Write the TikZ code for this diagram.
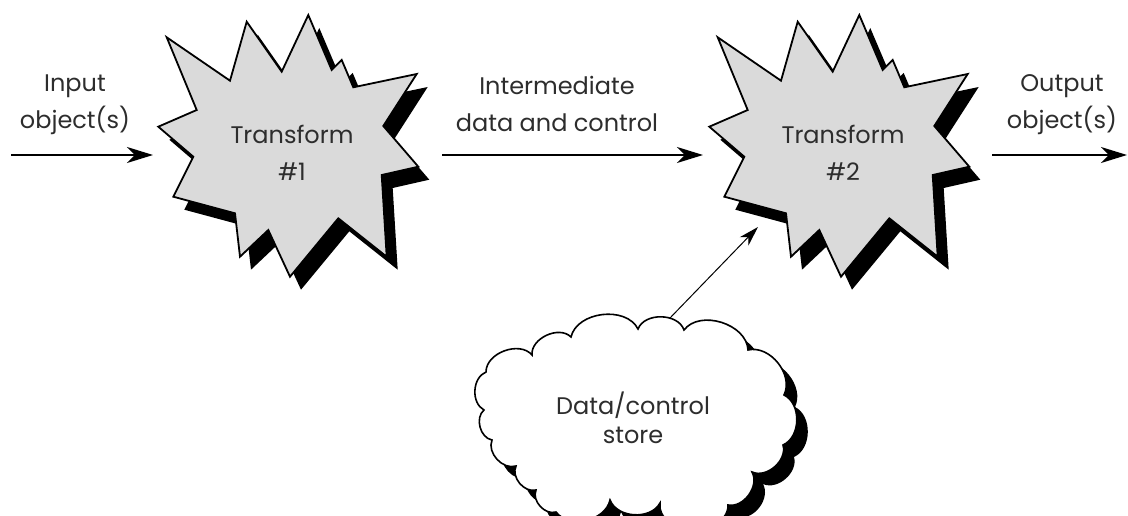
\documentclass[tikz,border=0pt]{standalone}
\usepackage{fontspec}
\setmainfont{Poppins}
\usetikzlibrary{arrows.meta}
\definecolor{burstgray}{RGB}{218,218,218}
\definecolor{inkgray}{RGB}{45,45,45}

\tikzset{
  lbl/.style={font=\fontsize{24}{37}\selectfont, align=center, text=inkgray, inner sep=0pt},
  flow/.style={line width=1.8pt, -{Stealth[length=26pt,width=16pt,inset=8pt]}},
  feed/.style={line width=1pt, -{Stealth[length=20pt,width=12pt,inset=6pt]}},
  burst/.pic={
    \fill[black, shift={(11,13)}]
      (166.7,37.3) -- (230,80.7) -- (246.7,21.7) -- (281.7,71.7) -- (308.3,15)
      -- (331.7,70) -- (341.7,60) -- (353.3,87.3) -- (416.7,74) -- (383.3,126)
      -- (418.3,166.7) -- (381.7,175) -- (386.7,256.7) -- (338.3,218.3)
      -- (290,276.7) -- (268.3,230) -- (240,256.7) -- (235,213.3)
      -- (173.3,196.7) -- (193.3,156.7) -- (158.3,126.7) -- (196.7,110) -- cycle;
    \filldraw[fill=burstgray, draw=black, line width=1.8pt, line join=miter]
      (166.7,37.3) -- (230,80.7) -- (246.7,21.7) -- (281.7,71.7) -- (308.3,15)
      -- (331.7,70) -- (341.7,60) -- (353.3,87.3) -- (416.7,74) -- (383.3,126)
      -- (418.3,166.7) -- (381.7,175) -- (386.7,256.7) -- (338.3,218.3)
      -- (290,276.7) -- (268.3,230) -- (240,256.7) -- (235,213.3)
      -- (173.3,196.7) -- (193.3,156.7) -- (158.3,126.7) -- (196.7,110) -- cycle;
  },
  cloudpath/.pic={
    \path[pic actions]
      (486,372) to[bend left=70] (532,355) to[bend left=70] (571,337)
      to[bend left=70] (638,329) to[bend left=70] (684,330)
      to[bend left=70] (748,350) to[bend left=65] (784,395)
      to[bend left=65] (783,445) to[bend left=65] (752,472)
      to[bend left=65] (728,505) to[bend left=65] (690,525)
      to[bend left=65] (660,503) to[bend left=65] (610,500)
      to[bend left=65] (556,512) to[bend left=65] (536,490)
      to[bend left=65] (516,466) to[bend left=65] (492,440)
      to[bend left=65] (484,410) to[bend left=65] (486,372) -- cycle;
  }
}

\begin{document}
\begin{tikzpicture}[x=1pt,y=-1pt]
\useasboundingbox (0,0) rectangle (1128,516);
\clip (0,0) rectangle (1128,516);

% the two transform bursts, each with its offset black shadow
\pic at (0,0) {burst};
\pic at (551,0) {burst};

% the store cloud: black shadow below, white body on top
\pic[fill=black, shift={(11,12)}] at (0,0) {cloudpath};
\pic[fill=white, draw=black, line width=1.6pt] at (0,0) {cloudpath};

% texts
\node[lbl] (t1) at (292,153) {Transform\\\#1};
\node[lbl] (t2) at (843,153) {Transform\\\#2};
\node[lbl, font=\fontsize{24}{29}\selectfont] (store) at (633,418) {Data/control\\store};
\node[lbl] (inlbl) at (75,105) {Input\\object(s)};
\node[lbl] (midlbl) at (557,104) {Intermediate\\data and control};
\node[lbl] (outlbl) at (1062,105) {Output\\object(s)};

% connector end points
\coordinate (inA) at (11,155);
\coordinate (inB) at (153,155);
\coordinate (midA) at (442,155);
\coordinate (midB) at (703,155);
\coordinate (outA) at (992,155);
\coordinate (outB) at (1127,155);
\coordinate (storeTop) at (670,318);
\coordinate (storeTip) at (758,227);

\draw[flow] (inA) -- (inB);
\draw[flow] (midA) -- (midB);
\draw[flow] (outA) -- (outB);
\draw[feed] (storeTop) -- (storeTip);
\end{tikzpicture}
\end{document}
